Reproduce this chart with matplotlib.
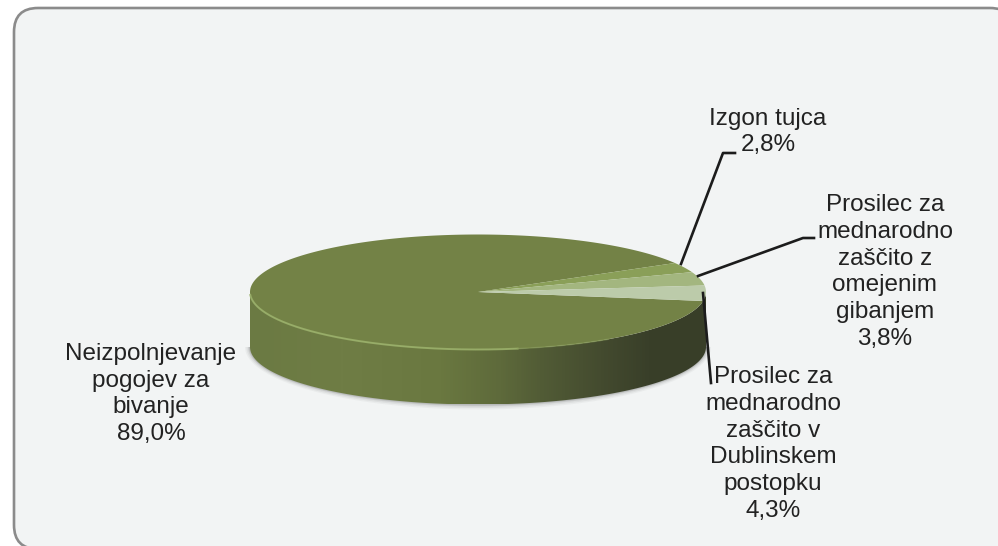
import numpy as np
import matplotlib
matplotlib.use('Agg')
import matplotlib.pyplot as plt
from matplotlib.colors import LinearSegmentedColormap
from matplotlib.patches import FancyBboxPatch, Polygon

# shares, clockwise from the lower right edge of the pie
labels = ['Neizpolnjevanje\npogojev za\nbivanje\n89,0%',
          'Izgon tujca\n2,8%',
          'Prosilec za\nmednarodno\nzaščito z\nomejenim\ngibanjem\n3,8%',
          'Prosilec za\nmednarodno\nzaščito v\nDublinskem\npostopku\n4,3%']
values = [89.0, 2.8, 3.8, 4.3]

colors = ['#738246', '#8a9f58', '#a3b67f', '#bccbaa']
label_xy = [(151, 394), (768, 132), (885, 272), (773, 444)]
leaders = [None,
           [(681, 264), (723, 153), (735, 153)],
           [(698, 276), (803, 238), (814, 238)],
           [(703, 293), (711, 383)]]

CX, CY = 478, 292
RX, RY = 228, 57.5
DEPTH = 55
START = -9  # degrees, where the big slice's clockwise sweep ends


def rim(a0, a1, n=200, grow=0):
    t = np.radians(np.linspace(a0, a1, n))
    return CX + (RX + grow) * np.cos(t), CY - (RY + grow) * np.sin(t)


fig = plt.figure(figsize=(9.98, 5.46), dpi=100, facecolor='white')
ax = fig.add_axes([0, 0, 1, 1])
ax.set_xlim(0, 998)
ax.set_ylim(546, 0)
ax.axis('off')

# card behind the chart, runs off the right and bottom edge
ax.add_patch(FancyBboxPatch((14, 8), 1000, 541,
                            boxstyle='round,pad=0,rounding_size=24',
                            fc='#f2f4f4', ec='#8b8b8b', lw=1.9, zorder=0))

# soft shadow under the side wall
for grow, alpha in [(5, 0.05), (3.5, 0.08), (2, 0.12), (1, 0.16)]:
    x, y = rim(180, 360, grow=grow)
    ax.fill(x, y + DEPTH, color='#555555', alpha=alpha, lw=0, zorder=1)

# side wall with a horizontal gradient
x, y = rim(180, 360)
side = Polygon(np.c_[np.r_[x, x[::-1]], np.r_[y + DEPTH, y[::-1]]],
               closed=True, fc='none', ec='none', transform=ax.transData)
ax.add_patch(side)
cmap = LinearSegmentedColormap.from_list('side', [
    (0.0, '#6b7a43'), (0.2, '#6f7d45'), (0.417, '#6a7840'),
    (0.55, '#5e6a3b'), (0.636, '#525c36'), (0.77, '#444b2f'),
    (0.877, '#393f29'), (1.0, '#383e28')])
im = ax.imshow(np.linspace(0, 1, 456)[None, :], cmap=cmap, aspect='auto',
               extent=(CX - RX, CX + RX, CY + RY + DEPTH, CY), zorder=2)
im.set_clip_path(side)
ax.set_xlim(0, 998)
ax.set_ylim(546, 0)

# top face, slices built from the values
sweep = np.array(values) / sum(values) * 360
ends = {}
# the big slice runs from START+rest clockwise; small ones sit above START
small_start = START
for i in [3, 2, 1]:
    ends[i] = (small_start, small_start + sweep[i])
    small_start += sweep[i]
ends[0] = (small_start, START + 360)
for i in range(4):
    x, y = rim(*ends[i], n=400)
    ax.fill(np.r_[CX, x], np.r_[CY, y], color=colors[i], lw=0, zorder=3)

# light bevel along the front rim, fades out to the right
x, y = rim(183, 280)
ax.plot(x, y, color='#9ab06a', lw=1.4, alpha=0.9, zorder=4)
x, y = rim(280, 305)
ax.plot(x, y, color='#8a9f58', lw=1.1, alpha=0.5, zorder=4)

for i, txt in enumerate(labels):
    ax.text(label_xy[i][0], label_xy[i][1], txt, ha='center', va='center',
            fontsize=17.5, family='Liberation Sans', color='#222222',
            linespacing=1.29, zorder=6)
    if leaders[i]:
        pts = np.array(leaders[i])
        ax.plot(pts[:, 0], pts[:, 1], color='#1c1c1c', lw=1.9, zorder=5)

fig.savefig('out.png', dpi=100, facecolor='white')
plt.close()
